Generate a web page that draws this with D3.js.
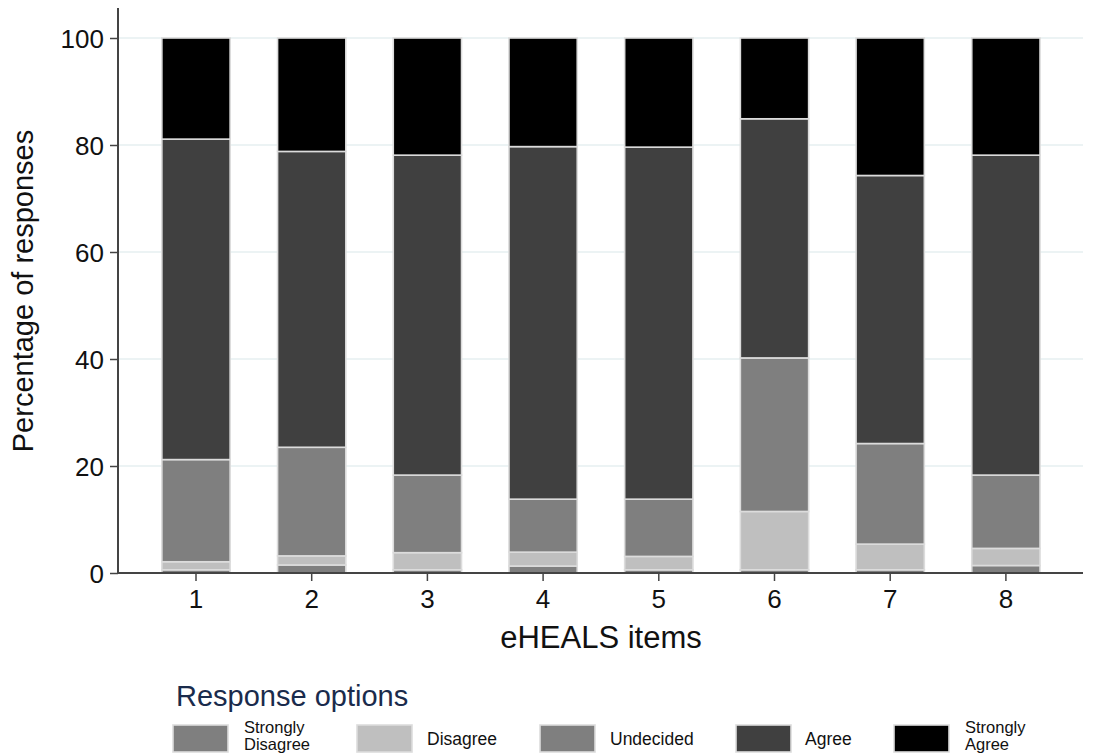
<!DOCTYPE html>
<html><head><meta charset="utf-8">
<script src="https://cdn.jsdelivr.net/npm/d3@7"></script>
<style>body{margin:0;background:#fff;} svg{display:block;font-family:"Liberation Sans",Arial,sans-serif;}</style>
</head><body>
<svg id="chart" width="1103" height="755"></svg>
<script>
const categories = ["1","2","3","4","5","6","7","8"];
const seriesNames = ["Strongly Disagree","Disagree","Undecided","Agree","Strongly Agree"];
const stronglyDisagree = [0.6, 1.5, 0.6, 1.3, 0.6, 0.6, 0.6, 1.4];
const disagree         = [1.5, 1.7, 3.2, 2.6, 2.5, 10.9, 4.8, 3.2];
const undecided        = [19.1, 20.3, 14.5, 9.9, 10.7, 28.7, 18.8, 13.7];
const agree            = [59.9, 55.3, 59.8, 65.9, 65.8, 44.7, 50.1, 59.8];
const stronglyAgree    = [18.9, 21.2, 21.9, 20.3, 20.4, 15.1, 25.7, 21.9];
const yTicks = [0, 20, 40, 60, 80, 100];
const colors = ["#7f7f7f","#bfbfbf","#7f7f7f","#404040","#000000"];

const seriesValues = [stronglyDisagree, disagree, undecided, agree, stronglyAgree];
const keys = ["sd","dis","und","agr","sa"];
const table = categories.map((c,i)=>{const o={cat:c}; keys.forEach((k,j)=>o[k]=seriesValues[j][i]); return o;});
const stacked = d3.stack().keys(keys)(table);

const svg = d3.select("#chart");
const axisLeftX = 118, axisRightX = 1083, y0px = 573, y100px = 38;
const y = d3.scaleLinear().domain([0,100]).range([y0px, y100px]);
const step = 115.7;
const x = d3.scaleBand().domain(categories).range([196 - step/2, 196 - step/2 + step*8]).paddingInner(0.41).paddingOuter(0.205);

// gridlines
svg.append("g").selectAll("line").data(yTicks.filter(t=>t>0)).join("line")
  .attr("x1", axisLeftX).attr("x2", axisRightX)
  .attr("y1", d=>y(d)).attr("y2", d=>y(d))
  .attr("stroke","#e6eff0").attr("stroke-width",1.5);

// bars
const g = svg.append("g");
stacked.forEach((s,si)=>{
  g.append("g").selectAll("rect").data(s).join("rect")
    .attr("x", d=>x(d.data.cat))
    .attr("width", x.bandwidth())
    .attr("y", d=>y(d[1]))
    .attr("height", d=>y(d[0])-y(d[1]))
    .attr("fill", colors[si])
    .attr("stroke","#dcdcdc").attr("stroke-width",1.6);
});

// y axis
const yAxis = d3.axisLeft(y).tickValues(yTicks).tickSize(8).tickPadding(6);
const ya = svg.append("g").attr("transform",`translate(${axisLeftX},0)`).call(yAxis);
ya.select(".domain").remove();
ya.selectAll(".tick line").attr("stroke","#444").attr("stroke-width",1.5);
ya.selectAll(".tick text").attr("font-size",26).attr("fill","#111").attr("font-family","Liberation Sans, Arial, sans-serif").attr("dy","0.35em");
svg.append("line").attr("x1",axisLeftX).attr("x2",axisLeftX).attr("y1",8).attr("y2",y0px+1)
  .attr("stroke","#444").attr("stroke-width",2);

// x axis
const xAxis = d3.axisBottom(x).tickSize(8).tickPadding(9);
const xa = svg.append("g").attr("transform",`translate(0,${y0px})`).call(xAxis);
xa.select(".domain").remove();
xa.selectAll(".tick line").attr("stroke","#444").attr("stroke-width",1.5);
xa.selectAll(".tick text").attr("font-size",26).attr("fill","#111").attr("font-family","Liberation Sans, Arial, sans-serif");
svg.append("line").attr("x1",axisLeftX-1).attr("x2",axisRightX).attr("y1",y0px).attr("y2",y0px)
  .attr("stroke","#444").attr("stroke-width",2);

// axis titles
svg.append("text").attr("transform","translate(33,291) rotate(-90)").attr("text-anchor","middle")
  .attr("font-size",29).attr("fill","#111").text("Percentage of responses");
svg.append("text").attr("x",601).attr("y",648).attr("text-anchor","middle")
  .attr("font-size",31).attr("fill","#111").text("eHEALS items");

// legend
svg.append("text").attr("x",176).attr("y",706).attr("font-size",29).attr("fill","#1a2b4c").text("Response options");
const legX = [173, 357, 540, 736, 894];
const labX = [244, 427, 610, 805, 965];
const lg = svg.append("g");
seriesNames.forEach((n,i)=>{
  lg.append("rect").attr("x",legX[i]).attr("y",725).attr("width",55).attr("height",27)
    .attr("fill",colors[i]).attr("stroke","#dcdcdc").attr("stroke-width",1.6);
  const parts = n.split(" ");
  const t = lg.append("text").attr("font-family","'Liberation Sans',Arial,sans-serif")
    .attr("font-size",16.5).attr("fill","#111");
  if (parts.length>1) {
    t.append("tspan").attr("x",labX[i]).attr("y",733).text(parts[0]);
    t.append("tspan").attr("x",labX[i]).attr("y",750).text(parts.slice(1).join(" "));
  } else {
    t.attr("x",labX[i]).attr("y",745).attr("font-size",17.5).text(n);
  }
});
</script>
</body></html>
